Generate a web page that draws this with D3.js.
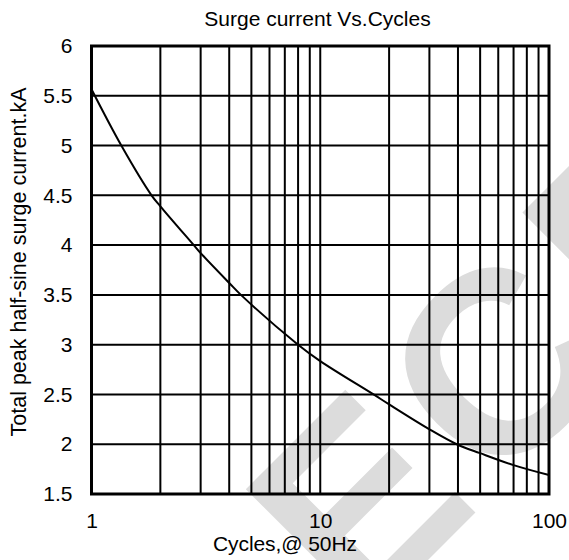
<!DOCTYPE html>
<html><head><meta charset="utf-8">
<script src="https://cdn.jsdelivr.net/npm/d3@7"></script>
<style>body{margin:0;background:#fff}</style></head>
<body><svg id="c" width="569" height="560"></svg>
<script>
const cycles=[1,1.35,1.83,2,2.8,3,4,4.5,8,10,17.1,20,30,39.5,50,70,100];
const current=[5.565,5.0,4.5,4.39,4.0,3.92,3.62,3.5,3.0,2.835,2.5,2.40,2.15,2.0,1.91,1.79,1.69];
const xTicks=[1,10,100];
const xGrid=[2,3,4,5,6,7,8,9,10,20,30,40,50,60,70,80,90];
const yTicks=[1.5,2,2.5,3,3.5,4,4.5,5,5.5,6];
const titleText="Surge current Vs.Cycles";
const xLabel="Cycles,@ 50Hz";
const yLabel="Total peak half-sine surge current.kA";
const watermark="ECE";

const svg=d3.select("#c");
const font="'Liberation Sans', Arial, sans-serif";
const L=91.5,R=549,T=46,B=494;
const x=d3.scaleLog().domain([1,100]).range([L,R]);
const y=d3.scaleLinear().domain([1.5,6]).range([B,T]);

// watermark (behind everything)
svg.append("text").attr("transform","translate(360,628) rotate(-45)")
  .attr("font-family",font).attr("font-weight","bold").attr("font-size",260)
  .attr("letter-spacing",15)
  .attr("fill","#dcdcdc").text(watermark);

// grid
svg.append("g").selectAll("line").data(xGrid).join("line")
  .attr("x1",d=>x(d)).attr("x2",d=>x(d)).attr("y1",T).attr("y2",B)
  .attr("stroke","#000").attr("stroke-width",2);
svg.append("g").selectAll("line").data(yTicks).join("line")
  .attr("x1",L).attr("x2",R).attr("y1",d=>y(d)).attr("y2",d=>y(d))
  .attr("stroke","#000").attr("stroke-width",2);
svg.append("rect").attr("x",L).attr("y",T).attr("width",R-L).attr("height",B-T)
  .attr("fill","none").attr("stroke","#000").attr("stroke-width",3);

// curve
const pts=cycles.map((c,i)=>[x(c),y(current[i])]);
svg.append("path").attr("d",d3.line().curve(d3.curveCatmullRom.alpha(0.5))(pts))
  .attr("fill","none").attr("stroke","#000").attr("stroke-width",2);

// axes
const ax=svg.append("g").attr("transform",`translate(0,${B})`)
  .call(d3.axisBottom(x).tickValues(xTicks).tickFormat(d=>String(d)).tickSize(0).tickPadding(19.5));
const ay=svg.append("g").attr("transform",`translate(${L},0)`)
  .call(d3.axisLeft(y).tickValues(yTicks).tickFormat(d=>String(d)).tickSize(0).tickPadding(19));
[ax,ay].forEach(g=>{g.select(".domain").remove();
  g.selectAll("text").attr("font-family",font).attr("font-size",21).attr("fill","#000");});

svg.append("text").attr("x",317.5).attr("y",26).attr("text-anchor","middle")
  .attr("font-family",font).attr("font-size",21).text(titleText);
svg.append("text").attr("x",285).attr("y",551).attr("text-anchor","middle")
  .attr("font-family",font).attr("font-size",21)
  .attr("textLength",144).attr("lengthAdjust","spacing").text(xLabel);
svg.append("text").attr("transform","translate(26,262) rotate(-90)").attr("text-anchor","middle")
  .attr("font-family",font).attr("font-size",21.5).text(yLabel);
</script></body></html>
